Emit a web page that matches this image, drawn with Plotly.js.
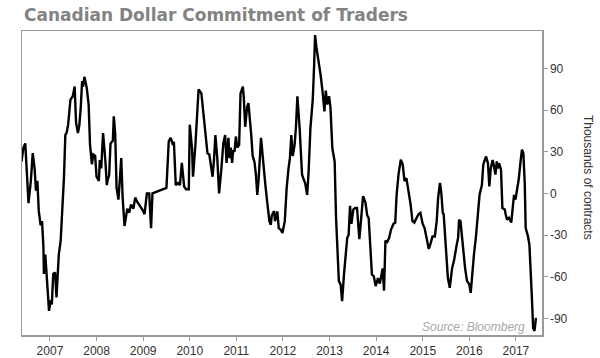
<!DOCTYPE html>
<html>
<head>
<meta charset="utf-8">
<script src="https://cdn.plot.ly/plotly-3.0.1.min.js"></script>
<style>html,body{margin:0;padding:0;background:#fff}#chart{width:600px;height:358px}</style>
</head>
<body>
<div id="chart"></div>
<script>
// Decimal-year dates (weekly COT readings)
const dates = [
2006.39,2006.43,2006.47,2006.50,2006.54,2006.59,2006.63,2006.67,2006.70,2006.73,2006.76,2006.80,2006.83,2006.86,2006.87,2006.90,2006.93,2006.98,
2007.02,2007.04,2007.07,2007.11,2007.14,2007.19,2007.23,2007.26,2007.30,2007.33,2007.36,2007.39,2007.41,2007.44,2007.49,2007.53,2007.56,2007.60,2007.63,2007.66,2007.69,2007.71,2007.74,2007.79,2007.83,2007.86,2007.90,2007.93,2007.97,
2008.00,2008.05,2008.07,2008.10,2008.14,2008.19,2008.22,2008.24,2008.27,2008.30,2008.35,2008.37,2008.40,2008.43,2008.47,2008.50,2008.53,2008.56,2008.60,2008.66,2008.70,2008.74,2008.79,2008.83,2008.87,2008.93,2008.99,
2009.03,2009.08,2009.13,2009.17,2009.20,2009.30,2009.41,2009.50,2009.55,2009.59,2009.63,2009.66,2009.70,2009.75,2009.79,2009.83,2009.88,2009.92,2009.98,
2010.00,2010.05,2010.07,2010.12,2010.16,2010.19,2010.25,2010.29,2010.33,2010.38,2010.42,2010.46,2010.49,2010.52,2010.55,2010.59,2010.63,2010.68,2010.72,2010.76,2010.79,2010.83,2010.85,2010.88,2010.91,2010.93,2010.96,2010.99,
2011.02,2011.06,2011.09,2011.14,2011.16,2011.19,2011.23,2011.26,2011.29,2011.32,2011.35,2011.39,2011.42,2011.45,2011.48,2011.51,2011.53,2011.56,2011.59,2011.62,2011.66,2011.71,2011.74,2011.76,2011.81,2011.83,2011.88,2011.91,2011.95,2011.99,
2012.04,2012.08,2012.12,2012.15,2012.18,2012.21,2012.25,2012.28,2012.31,2012.34,2012.36,2012.41,2012.45,2012.48,2012.52,2012.55,2012.59,2012.64,2012.67,2012.69,2012.72,2012.77,2012.81,2012.85,2012.89,2012.92,2012.95,2012.99,
2013.02,2013.06,2013.11,2013.14,2013.17,2013.20,2013.24,2013.27,2013.31,2013.35,2013.38,2013.41,2013.44,2013.47,2013.51,2013.55,2013.59,2013.64,2013.68,2013.72,2013.77,2013.81,2013.84,2013.88,2013.91,2013.95,2013.99,
2014.04,2014.08,2014.11,2014.14,2014.17,2014.20,2014.24,2014.28,2014.32,2014.37,2014.41,2014.44,2014.48,2014.53,2014.57,2014.61,2014.65,2014.70,2014.74,2014.78,2014.82,2014.87,2014.91,2014.95,
2015.00,2015.04,2015.08,2015.13,2015.17,2015.21,2015.26,2015.30,2015.33,2015.37,2015.40,2015.43,2015.45,2015.48,2015.51,2015.54,2015.58,2015.63,2015.67,2015.70,2015.73,2015.76,2015.78,2015.81,2015.84,2015.87,2015.91,2015.95,
2016.00,2016.03,2016.06,2016.10,2016.14,2016.18,2016.22,2016.27,2016.30,2016.33,2016.36,2016.40,2016.43,2016.46,2016.50,2016.53,2016.56,2016.59,2016.61,2016.64,2016.68,2016.71,2016.76,2016.78,2016.81,2016.85,2016.90,2016.93,2016.96,2016.99,
2017.02,2017.06,2017.10,2017.13,2017.16,2017.19,2017.21,2017.26,2017.29,2017.31,2017.34,2017.37,2017.40,2017.43
];
// Net positions, thousands of contracts
const netPositions = [
23,33,36,13.5,-7,9,29,18,2,9,-12.6,-23,-20,-39,-58,-44,-61,-84.6,
-77,-80,-58,-57,-75,-44,-34,-16,11,42,44,49.5,59,67.6,70,77,51,43.5,49,61.5,81,77,84,76,64,35,21,28,27,
12,9,24,18,43.5,23,6,10,13,36,38,55.6,43,4,-4.5,10,25.5,-3,-23.5,-11,-14,-8,-11,-3,-6,-9,-12,
-15,0,0,-25,0,1.5,3,4,37.6,40,36,37,6,7.5,6,22,5,3,3,
49.5,32,12,34,57,75,72,59,46,29,28,19.5,12,24,42,26,0,18,36,42,22,40,25.5,33,22,31,30,41,
33,35,72,77,69,48,62,65,55,42,27,22.5,13.5,-1,11,29,40,29,16,7,-5.6,-20,-22.6,-16,-12.8,-20,-13,-25,-26,-28.5,
-20,4,18,25.5,42,27,35,48,70,56,46,13.5,10,7,-1,15,47,67.5,92.7,114,105,95,85,73.5,59,74,64,70,
62,32.7,23,-17.6,-41.6,-63,-66,-77.6,-58.5,-39,-32,-30,-9,-22,-11.6,-10.5,-10.5,-33,-16,-2,-6.5,-16,-17.6,-44,-58.5,-59.6,-66.8,
-61,-65,-59.6,-54,-70,-34,-35,-32,-26,-22,-21,-1,13.5,24.3,21,8.8,11,2,-8,-20,-21,-17.6,-15,-14,
-22,-25,-33,-40,-36,-31,-31,-20,-3.6,7.5,0,-14,-15,-29.6,-44,-61,-68,-54,-48.6,-41.6,-37,-32,-19,-20,-32,-40,-54,-63,
-65.5,-71.6,-57,-44,-32,-18,-1,6,20.7,24,26.6,21.6,5,18,24,19.5,13.5,23,18,21.6,17,-10.5,-11.6,-15,-19,-17.6,-21,-11,-1,-4.5,
1,10,23,31.5,29,7,-25,-31,-37,-48.6,-73,-97,-99,-89.6
];
const yearTicks = [2007,2008,2009,2010,2011,2012,2013,2014,2015,2016,2017];
const yearLabels = yearTicks.map(String);
const yTicks = [-90,-60,-30,0,30,60,90];
const yLabels = yTicks.map(String);

const trace = {
  x: dates, y: netPositions, type: 'scatter', mode: 'lines',
  line: {color: '#000', width: 2.4}, hoverinfo: 'skip'
};
const layout = {
  width: 600, height: 358,
  margin: {l: 22, r: 58, t: 31, b: 23},
  paper_bgcolor: '#fff', plot_bgcolor: '#fff',
  showlegend: false,
  title: {
    text: 'Canadian Dollar Commitment of Traders',
    font: {family: 'DejaVu Sans', size: 17, color: '#838383', weight: 'bold'},
    x: 24/600, xanchor: 'left', xref: 'container',
    y: 1 - 15/358, yanchor: 'middle', yref: 'container'
  },
  xaxis: {
    range: [2006.4, 2017.56], tickvals: yearTicks, ticktext: yearLabels,
    showgrid: false, zeroline: false,
    showline: true, mirror: true, linecolor: '#9a9a9a', linewidth: 1.5,
    ticks: 'outside', ticklen: 4, tickcolor: '#9a9a9a', tickwidth: 1,
    tickfont: {family: 'Liberation Sans', size: 12, color: '#333'}
  },
  yaxis: {
    side: 'right', range: [-102, 117], tickvals: yTicks, ticktext: yLabels,
    showgrid: false, zeroline: false,
    showline: true, mirror: true, linecolor: '#9a9a9a', linewidth: 1.5,
    ticks: 'outside', ticklen: 4, tickcolor: '#9a9a9a', tickwidth: 1,
    tickfont: {family: 'Liberation Sans', size: 12, color: '#333'}
  },
  annotations: [
    {text: 'Thousands of contracts', textangle: 90, showarrow: false,
     xref: 'paper', yref: 'paper', x: 1, xshift: 46, xanchor: 'center',
     y: 0.52, yanchor: 'middle',
     font: {family: 'Liberation Sans', size: 12, color: '#333'}},
    {text: '<i>Source: Bloomberg</i>', showarrow: false,
     xref: 'paper', yref: 'paper', x: (527-22)/520, xanchor: 'right',
     y: (335.5-327)/304.5, yanchor: 'middle',
     font: {family: 'Liberation Sans', size: 12, color: '#a8a8a8'}}
  ]
};
Plotly.newPlot('chart', [trace], layout, {displayModeBar: false, staticPlot: true});
</script>
</body>
</html>
